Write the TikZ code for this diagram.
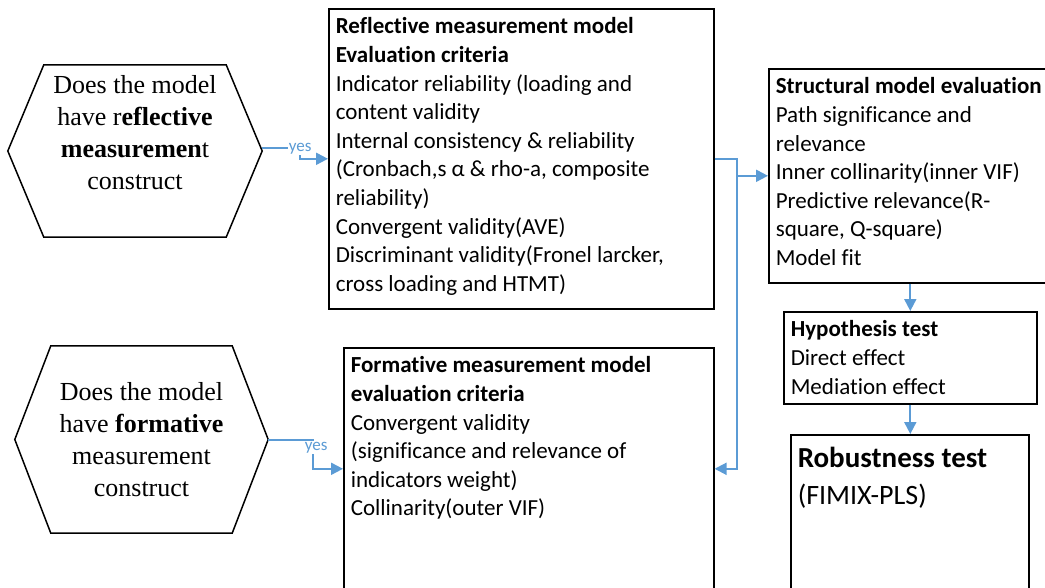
\documentclass[tikz,border=0pt]{standalone}
\usepackage{fontspec}
\setmainfont{Liberation Serif}
\newfontfamily\carlito[Ligatures=NoCommon]{Carlito}
\usetikzlibrary{arrows.meta}
\definecolor{linkblue}{HTML}{5B9BD5}

\begin{document}
\begin{tikzpicture}[x=1pt,y=-1pt,
  box/.style={draw,line width=1.6pt,anchor=north west,inner xsep=7pt,inner ysep=9pt,font=\carlito\fontsize{23}{28.6}\selectfont},
  hexbox/.style={align=center,font=\fontsize{26}{32}\selectfont},
  edge/.style={line width=1.5pt},
  link/.style={draw=linkblue,line width=2pt,-{Triangle[length=12pt,width=12pt]}},
  yeslbl/.style={fill=white,inner sep=1pt,text=linkblue,font=\carlito\fontsize{17}{18}\selectfont}]
 \useasboundingbox (0,0) rectangle (1045,587);
 % decision hexagons
 \node[hexbox,minimum width=254pt,minimum height=172pt] (q1) at (135,148) {Does the model\\have r\textbf{eflective}\\\textbf{measuremen}t\\construct\\\mbox{}};
 \draw[edge] ([yshift=-3pt]q1.west) -- ([xshift=36pt,yshift=-3pt]q1.north west) -- ([xshift=-36pt,yshift=-3pt]q1.north east) -- ([yshift=-3pt]q1.east) -- ([xshift=-36pt,yshift=-3pt]q1.south east) -- ([xshift=36pt,yshift=-3pt]q1.south west) -- cycle;
 \node[hexbox,minimum width=253pt,minimum height=187pt] (q2) at (141.5,439.5) {Does the model\\have \textbf{formative}\\measurement\\construct};
 \draw[edge] (q2.west) -- ([xshift=36pt]q2.north west) -- ([xshift=-36pt]q2.north east) -- (q2.east) -- ([xshift=-36pt]q2.south east) -- ([xshift=36pt]q2.south west) -- cycle;
 % evaluation boxes
 \node[box] (rm) at (328,8) {\parbox[t][282pt][t]{371pt}{\raggedright
  \textbf{Reflective measurement model}\\
  \textbf{Evaluation criteria}\\
  Indicator reliability (loading and\\
  content validity\\
  Internal consistency \& reliability\\
  (Cronbach,s α \& rho-a, composite\\
  reliability)\\
  Convergent validity(AVE)\\
  Discriminant validity(Fronel larcker,\\
  cross loading and HTMT)}};
 \node[box] (fm) at (343,347) {\parbox[t][224pt][t]{356pt}{\raggedright
  \textbf{Formative measurement model}\\
  \textbf{evaluation criteria}\\
  Convergent validity\\
  (significance and relevance of\\
  indicators weight)\\
  Collinarity(outer VIF)}};
 \node[box] (sm) at (768,68) {\parbox[t][196pt][t]{286pt}{\raggedright
  \textbf{Structural model evaluation}\\
  Path significance and\\
  relevance\\
  Inner collinarity(inner VIF)\\
  Predictive relevance(R-\\
  square, Q-square)\\
  Model fit}};
 \node[box] (ht) at (783,311) {\parbox[t][74pt][t]{239pt}{\raggedright
  \textbf{Hypothesis test}\\
  Direct effect\\
  Mediation effect}};
 \node[box,inner ysep=12pt] (rb) at (790,434) {\parbox[t][146pt][t]{224pt}{\raggedright\fontsize{28}{37}\selectfont
  {\fontsize{29}{37}\selectfont\textbf{Robustness test}}\\
  (FIMIX-PLS)}};
 % connectors
 \draw[link] (q1.east) -- ++(38,0) coordinate (k1) |- (rm.west);
 \node[yeslbl] at ([yshift=-1pt]k1) {yes};
 \draw[link] (q2.east) -- ++(45,0) coordinate (k2) |- (fm.west);
 \node[yeslbl] at ([xshift=3pt,yshift=-8pt]k2) {yes};
 \draw[link] (rm.east) -- ++(22,0) coordinate (j) |- (fm.east);
 \draw[link] (j) |- (sm.west);
 \draw[link] (sm.south -| ht.north) -- (ht.north);
 \draw[link] (ht.south) -- (ht.south |- rb.north);
\end{tikzpicture}
\end{document}
